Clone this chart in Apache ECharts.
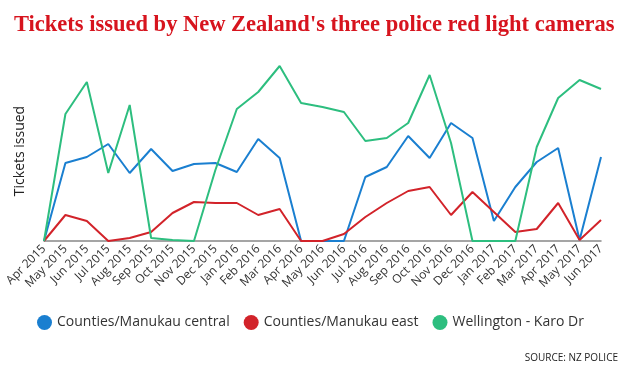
<!DOCTYPE html>
<html><head><meta charset="utf-8">
<script src="https://cdn.jsdelivr.net/npm/echarts@6/dist/echarts.min.js"></script>
<style>html,body{margin:0;padding:0;background:#fff}#c{width:629px;height:379px}</style>
</head><body><div id="c"></div>
<script>
const months = ['Apr 2015','May 2015','Jun 2015','Jul 2015','Aug 2015','Sep 2015','Oct 2015','Nov 2015','Dec 2015','Jan 2016','Feb 2016','Mar 2016','Apr 2016','May 2016','Jun 2016','Jul 2016','Aug 2016','Sep 2016','Oct 2016','Nov 2016','Dec 2016','Jan 2017','Feb 2017','Mar 2017','Apr 2017','May 2017','Jun 2017'];
const central = [0,78,84,97,68,92,70,77,78,69,102,83,0,0,0,64,74,105,83,118,103,20,54,79,93,1,84];
const east = [0,26,20,0,3,9,28,39,38,38,26,32,0,0,7,24,38,50,54,26,49,29,9,12,38,1,21];
const wellington = [0,127,159,68,136,3,1,0,71,132,149,175,138,134,129,100,103,118,166,98,0,0,0,94,143,161,152];
const seriesNames = ['Counties/Manukau central','Counties/Manukau east','Wellington - Karo Dr'];
const colors = ['#1a7fd0','#d2232a','#2dbe7f'];

const chart = echarts.init(document.getElementById('c'));
const mk = (name, data, color) => ({
  name, type: 'line', data, showSymbol: false, symbol: 'none',
  lineStyle: { width: 2, color }, itemStyle: { color }
});
chart.setOption({
  animation: false,
  title: [{
    text: "Tickets issued by New Zealand's three police red light cameras",
    left: 9, top: 9,
    textStyle: { fontFamily: 'Liberation Serif', fontWeight: 'bold', fontSize: 22.5, color: '#d7141e' }
  }, {
    text: 'SOURCE: NZ POLICE', right: 6, top: 348,
    textStyle: { fontFamily: 'Open Sans', fontWeight: 'normal', fontSize: 10, color: '#222' }
  }],
  legend: {
    data: seriesNames, left: 32, top: 310, icon: 'circle', itemWidth: 15, itemHeight: 15, itemGap: 14,
    textStyle: { fontFamily: 'Open Sans', fontSize: 14, color: '#333' }
  },
  grid: { left: 44, right: 28, top: 61, bottom: 138 },
  xAxis: {
    type: 'category', data: months, boundaryGap: false,
    axisLine: { lineStyle: { color: '#888', width: 1.5 } },
    axisTick: { show: false },
    axisLabel: { rotate: 45, interval: 0, fontFamily: 'Open Sans', fontSize: 12, color: '#333', margin: 6 }
  },
  yAxis: {
    type: 'value', min: 0, max: 180,
    name: 'Tickets issued', nameLocation: 'middle', nameGap: 17,
    nameTextStyle: { fontFamily: 'Open Sans', fontSize: 14, color: '#222' },
    axisLine: { show: false }, axisTick: { show: false }, axisLabel: { show: false },
    splitLine: { show: false }
  },
  series: [mk(seriesNames[0], central, colors[0]), mk(seriesNames[1], east, colors[1]), mk(seriesNames[2], wellington, colors[2])]
});
</script></body></html>
